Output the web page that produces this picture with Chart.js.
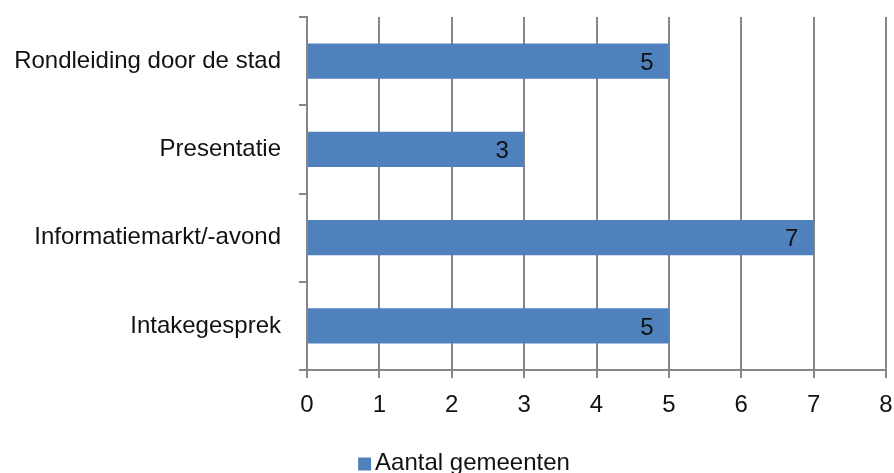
<!DOCTYPE html>
<html><head><meta charset="utf-8">
<script src="https://cdn.jsdelivr.net/npm/chart.js@4"></script>
<style>html,body{margin:0;padding:0;background:#fff}#wrap{width:894px;height:473px}</style>
</head><body><div id="wrap"><canvas id="c" width="894" height="473"></canvas></div>
<script>
const categories = ["Rondleiding door de stad", "Presentatie", "Informatiemarkt/-avond", "Intakegesprek"];
const values = [5, 3, 7, 5];
const seriesName = "Aantal gemeenten";
const xTicks = [0,1,2,3,4,5,6,7,8];

const FONT = "'Liberation Sans', Arial, sans-serif";
const FS = 24;
const gridCol = '#868686';
const barCol = '#4F81BD';
const textCol = '#111111';

const labelPlugin = {
  id: 'barLabels',
  afterDatasetsDraw(chart) {
    const ctx = chart.ctx;
    const meta = chart.getDatasetMeta(0);
    ctx.save();
    ctx.font = FS + 'px ' + FONT;
    ctx.fillStyle = textCol;
    ctx.textAlign = 'center';
    ctx.textBaseline = 'middle';
    meta.data.forEach((bar, i) => {
      ctx.fillText(String(values[i]), bar.x - 22, bar.y + 2);
    });
    ctx.restore();
  }
};

const legendPlugin = {
  id: 'customLegend',
  afterDraw(chart) {
    const ctx = chart.ctx;
    ctx.save();
    ctx.font = FS + 'px ' + FONT;
    const tw = ctx.measureText(seriesName).width;
    const box = 13, gap = 4;
    const total = box + gap + tw;
    const cx = 464;
    const x0 = cx - total / 2;
    const yc = 463;
    ctx.fillStyle = barCol;
    ctx.fillRect(x0, yc - box / 2 + 1, box, box);
    ctx.fillStyle = textCol;
    ctx.textBaseline = 'middle';
    ctx.textAlign = 'left';
    ctx.fillText(seriesName, x0 + box + gap, yc);
    ctx.restore();
  }
};

new Chart(document.getElementById('c'), {
  type: 'bar',
  data: {
    labels: categories,
    datasets: [{
      label: seriesName,
      data: values,
      backgroundColor: barCol,
      borderWidth: 0,
      categoryPercentage: 0.4,
      barPercentage: 1.0
    }]
  },
  options: {
    indexAxis: 'y',
    responsive: false,
    animation: false,
    devicePixelRatio: 1,
    layout: { padding: { top: 17, right: 8, left: 0, bottom: 53 } },
    scales: {
      x: {
        min: 0, max: 8,
        afterBuildTicks(scale) { scale.ticks = xTicks.map(v => ({ value: v })); },
        grid: { color: gridCol, lineWidth: 2, tickLength: 8, drawTicks: true },
        border: { color: gridCol, width: 2 },
        ticks: { font: { family: FONT, size: FS }, color: textCol, padding: 13 },
        afterFit(scale) { scale.height = 50; scale.paddingLeft = 0; scale.paddingRight = 0; scale.paddingTop = 0; scale.paddingBottom = 0; }
      },
      y: {
        grid: { drawOnChartArea: false, color: gridCol, lineWidth: 2, tickLength: 8, offset: true },
        border: { color: gridCol, width: 2 },
        ticks: { font: { family: FONT, size: FS }, color: textCol, padding: 18 },
        afterFit(scale) { scale.width = 307; scale.paddingTop = 0; scale.paddingBottom = 0; scale.paddingLeft = 0; scale.paddingRight = 0; }
      }
    },
    plugins: {
      legend: { display: false },
      tooltip: { enabled: false }
    }
  },
  plugins: [labelPlugin, legendPlugin]
});
</script></body></html>
